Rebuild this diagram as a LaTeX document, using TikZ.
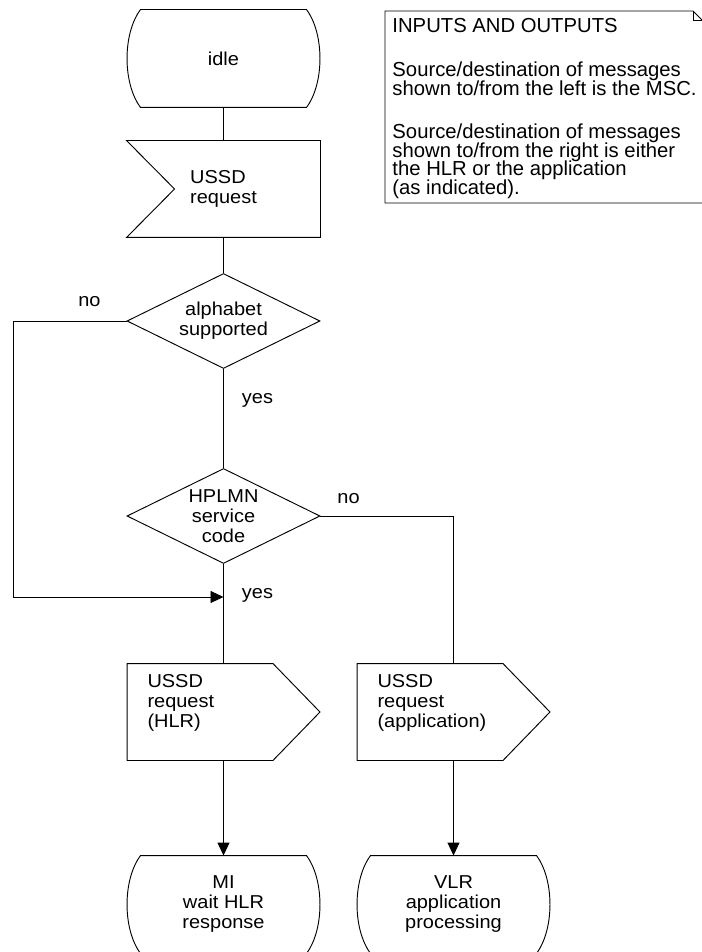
\documentclass[tikz,border=0pt]{standalone}
\usepackage{fontspec}
\usetikzlibrary{shapes.geometric,arrows.meta}
\newfontfamily\sdlfont[FakeStretch=1.07]{Liberation Sans}
\newfontfamily\notefont{Liberation Sans}
\newcommand\notesetup{\notefont\fontsize{15.2pt}{13.9pt}\selectfont\lineskiplimit=-100pt\relax}

\begin{document}
\begin{tikzpicture}[x=0.75pt, y=-0.75pt, line width=0.7pt,
		font=\sdlfont\fontsize{14pt}{15pt}\selectfont,
		stat/.style={minimum width=144.75pt, minimum height=72.75pt, inner sep=0pt, align=center},
		sig/.style={minimum width=144.75pt, minimum height=72pt, inner sep=0pt, align=left},
		outsig/.style={text width=114pt, inner xsep=15pt, inner ysep=0pt, minimum height=72pt, text depth=46.3pt, align=left},
		dec/.style={draw, diamond, aspect=2, minimum width=144.75pt, minimum height=71.25pt, inner sep=0pt, align=center},
		arr/.style={-{Triangle[length=9.75pt, width=9pt]}}]
		\useasboundingbox (0,0) rectangle (701,952);

		\node[stat] (1) at (223.5,58.5) {idle};
		\node[sig] (2) at (223.5,189) {USSD\\request};
		\node[dec] (3) at (223.5,321) {alphabet\\supported};
		\node[dec] (4) at (223.5,516) {HPLMN\\service\\code};
		\node[outsig] (5) at (223.5,712) {USSD\\request\\(HLR)};
		\node[outsig] (6) at (453.5,712) {USSD\\request\\(application)};
		\node[stat] (7) at (223.5,904.5) {MI\\wait HLR\\response};
		\node[stat] (8) at (453.5,904.5) {VLR\\application\\processing};

		\node (no1) at (89.5,302) {no};
		\node (yes1) at (257.5,400) {yes};
		\node (no2) at (348.5,499) {no};
		\node (yes2) at (257.5,595) {yes};

		\node[anchor=north west, inner sep=0pt, align=left, font=\notesetup] (note) at (392,18) {INPUTS AND OUTPUTS\\[19pt]Source/destination of messages\\shown to/from the left is the MSC.\\[19pt]Source/destination of messages\\shown to/from the right is either\\the HLR or the application\\(as indicated).};
		\draw (702.5,203) -- (385,203) -- (385,11) -- (693,11) -- (702.5,20.5);
		\draw (693,11) -- (693,20) -- (702.5,20);

		\foreach \n in {1,7,8}
			\draw ([xshift=10.5pt]\n.north west) -- ([xshift=-10.5pt]\n.north east) .. controls ([xshift=3pt,yshift=-18pt]\n.north east) and ([xshift=3pt,yshift=18pt]\n.south east) .. ([xshift=-10.5pt]\n.south east) -- ([xshift=10.5pt]\n.south west) .. controls ([xshift=-3pt,yshift=18pt]\n.south west) and ([xshift=-3pt,yshift=-18pt]\n.north west) .. cycle;
		\draw (2.north west) -- (2.north east) -- (2.south east) -- (2.south west) -- ([xshift=36pt]2.west) -- cycle;
		\foreach \n in {5,6}
			\draw (\n.north west) -- ([xshift=-35.25pt]\n.north east) -- (\n.east) -- ([xshift=-35.25pt]\n.south east) -- (\n.south west) -- cycle;

		\coordinate (j) at (223.5,597);
		\coordinate (k) at (13,597);

		\draw (1) -- (2);
		\draw (2) -- (3);
		\draw (3) -- (4);
		\draw[arr] (3.west) -| (k) -- (j);
		\draw (4) -- (5);
		\draw (4.east) -| (6.north);
		\draw[arr] (5) -- (7);
		\draw[arr] (6) -- (8);
	\end{tikzpicture}
\end{document}
